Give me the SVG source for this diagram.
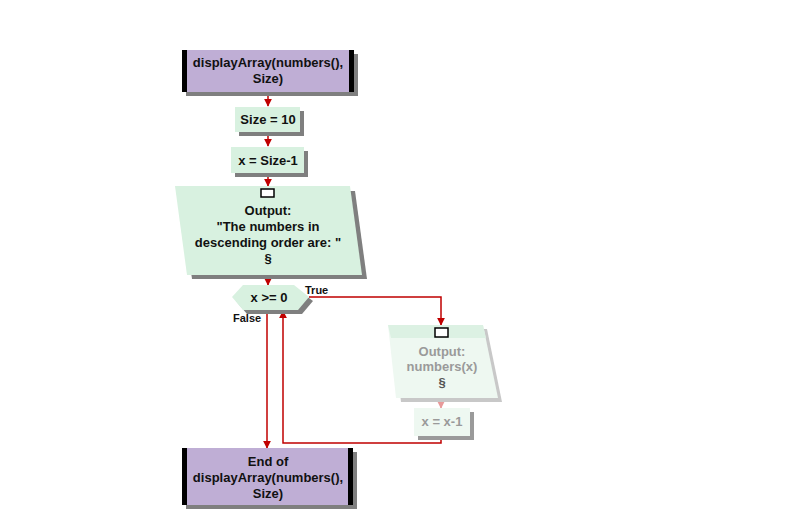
<svg xmlns="http://www.w3.org/2000/svg" width="800" height="515" viewBox="0 0 800 515">
<defs>
<style>
.t{font-family:"Liberation Sans",Arial,sans-serif;font-size:13px;font-weight:bold;fill:#111;text-anchor:middle}
.lbl{font-family:"Liberation Sans",Arial,sans-serif;font-size:11px;font-weight:bold;fill:#111}
.g{fill:#9a9a9a}
.sh{fill:#7f7f7f}
.term{fill:#bfaed5}
.bar{fill:#000}
.proc{fill:#d8f1e0}
.fade{fill:#eef8f1}
.ln{fill:none;stroke:#c00000;stroke-width:1.5}
.lnf{fill:none;stroke:#e89a9a;stroke-width:1.5}
</style>
<marker id="ah" viewBox="0 0 10 10" refX="9" refY="5" markerWidth="8" markerHeight="8" markerUnits="userSpaceOnUse" orient="auto">
<path d="M0,0 L10,5 L0,10 z" fill="#c00000"/>
</marker>
<marker id="ahf" viewBox="0 0 10 10" refX="9" refY="5" markerWidth="8" markerHeight="8" markerUnits="userSpaceOnUse" orient="auto">
<path d="M0,0 L10,5 L0,10 z" fill="#e89a9a"/>
</marker>
</defs>
<rect width="800" height="515" fill="#fff"/>

<g id="connectors">
<line class="ln" x1="268" y1="93" x2="268" y2="106" marker-end="url(#ah)"/>
<line class="ln" x1="268" y1="133" x2="268" y2="146" marker-end="url(#ah)"/>
<line class="ln" x1="268" y1="174" x2="268" y2="186" marker-end="url(#ah)"/>
<line class="ln" x1="268" y1="276" x2="268" y2="285" marker-end="url(#ah)"/>
<polyline class="ln" points="309,297 441,297 441,325" marker-end="url(#ah)"/>
<line class="lnf" x1="441" y1="399" x2="441" y2="408" marker-end="url(#ahf)"/>
<polyline class="ln" points="441,436 441,443 283,443 283,311" marker-end="url(#ah)"/>
<line class="ln" x1="267" y1="311" x2="267" y2="448" marker-end="url(#ah)"/>
<text class="lbl" x="305" y="294">True</text>
<text class="lbl" x="233" y="322">False</text>
</g>

<g id="start">
<rect class="sh" x="186" y="54" width="172" height="42"/>
<rect class="term" x="182" y="50" width="172" height="42"/>
<rect class="bar" x="182" y="50" width="5" height="42"/>
<rect class="bar" x="349" y="50" width="5" height="42"/>
<text class="t" x="268" y="67">displayArray(numbers(),</text>
<text class="t" x="268" y="83">Size)</text>
</g>

<g id="size10">
<rect class="sh" x="239" y="111" width="65" height="25"/>
<rect class="proc" x="235" y="107" width="65" height="25"/>
<text class="t" x="268" y="124">Size = 10</text>
</g>

<g id="xsize">
<rect class="sh" x="235" y="151" width="73" height="26"/>
<rect class="proc" x="231" y="147" width="73" height="26"/>
<text class="t" x="268" y="165">x = Size-1</text>
</g>

<g id="output1">
<polygon class="sh" points="180,191 355,191 367,279 192,279"/>
<polygon class="proc" points="175,186 350,186 362,275 187,275"/>
<rect x="261" y="189" width="13" height="8" fill="#fff" stroke="#000" stroke-width="1.5"/>
<text class="t" x="268" y="215">Output:</text>
<text class="t" x="268" y="231">"The numbers in</text>
<text class="t" x="268" y="247">descending order are: "</text>
<text class="t" x="268" y="263">§</text>
</g>

<g id="decision">
<polygon class="sh" points="236,301 247,290 298,290 313,301 302,314 247,314"/>
<polygon class="proc" points="232,297 243,285 294,285 309,297 298,310 243,310"/>
<text class="t" x="269" y="302">x &gt;= 0</text>
</g>

<g id="output2">
<polygon fill="#c8c8c8" points="393,329 487,329 502,402 401,402"/>
<polygon class="fade" points="388,325 483,325 498,398 396,398"/>
<polygon fill="#dcf1e3" points="388,325 483,325 486,338 391,338"/>
<rect x="435" y="328" width="13" height="9" fill="#fff" stroke="#000" stroke-width="1.5"/>
<text class="t g" x="442" y="356">Output:</text>
<text class="t g" x="442" y="371">numbers(x)</text>
<text class="t" x="442" y="387" style="fill:#555">§</text>
</g>

<g id="xdec">
<rect fill="#9a9a9a" x="418" y="412" width="56" height="28"/>
<rect class="fade" x="414" y="408" width="56" height="28"/>
<text class="t g" x="442" y="426">x = x-1</text>
</g>

<g id="end">
<rect class="sh" x="186" y="452" width="171" height="57"/>
<rect class="term" x="182" y="448" width="171" height="57"/>
<rect class="bar" x="182" y="448" width="5" height="57"/>
<rect class="bar" x="348" y="448" width="5" height="57"/>
<text class="t" x="268" y="466">End of</text>
<text class="t" x="268" y="482">displayArray(numbers(),</text>
<text class="t" x="268" y="498">Size)</text>
</g>
</svg>
